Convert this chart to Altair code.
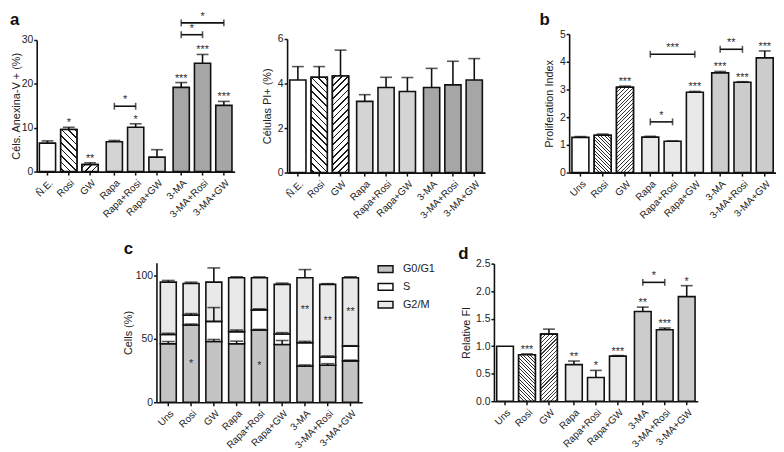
import math
import altair as alt
import pandas as pd

FONT = "Liberation Sans"
W, H = 776, 444
INK = "#111111"

# ---------------- data ----------------
labels_a = ["Ñ.E.", "Rosi", "GW", "Rapa", "Rapa+Rosi", "Rapa+GW", "3-MA", "3-MA+Rosi", "3-MA+GW"]
labels_bcd = ["Uns", "Rosi", "GW", "Rapa", "Rapa+Rosi", "Rapa+GW", "3-MA", "3-MA+Rosi", "3-MA+GW"]

annexin_mean = [6.5, 9.6, 1.6, 6.8, 10.1, 3.3, 19.2, 24.7, 15.1]
annexin_err = [0.5, 0.5, 0.4, 0.3, 0.8, 1.7, 1.1, 2.0, 0.9]
annexin_stars = ["", "*", "**", "", "*", "", "***", "***", "***"]
annexin_brackets = [("Rapa", "Rapa+Rosi", 14.9, "*"),
                    ("3-MA", "3-MA+Rosi", 31.2, "*"),
                    ("3-MA", "3-MA+GW", 33.9, "*")]

pi_mean = [4.16, 4.28, 4.34, 3.2, 3.82, 3.64, 3.82, 3.94, 4.16]
pi_err = [0.6, 0.48, 1.16, 0.3, 0.46, 0.63, 0.86, 1.06, 0.96]
pi_stars = [""] * 9
pi_brackets = []

prolif_mean = [1.27, 1.35, 3.08, 1.28, 1.13, 2.90, 3.60, 3.26, 4.14]
prolif_err = [0.03, 0.04, 0.04, 0.03, 0.01, 0.03, 0.05, 0.02, 0.25]
prolif_stars = ["", "", "***", "", "", "***", "***", "***", "***"]
prolif_brackets = [("Rapa", "Rapa+Rosi", 1.83, "*"),
                   ("Rapa", "Rapa+GW", 4.27, "***"),
                   ("3-MA", "3-MA+Rosi", 4.45, "**")]

fi_mean = [1.0, 0.845, 1.22, 0.665, 0.43, 0.82, 1.63, 1.30, 1.90]
fi_err = [0.0, 0.015, 0.09, 0.065, 0.13, 0.01, 0.08, 0.03, 0.2]
fi_stars = ["", "***", "", "**", "*", "***", "**", "***", "*"]
fi_brackets = [("3-MA", "3-MA+Rosi", 2.16, "*")]

phases = ["G0/G1", "S", "G2/M"]
cc_g0 = [46.1, 60.9, 47.9, 46.1, 57.0, 45.6, 28.6, 29.2, 32.6]
cc_s = [7.3, 7.85, 15.9, 9.6, 15.9, 8.3, 18.3, 6.5, 11.7]
cc_g2 = [41.4, 25.0, 31.0, 42.5, 25.3, 39.1, 51.3, 57.3, 53.9]
cc_g0_err = [1.8, 0.8, 1.6, 2.1, 0.5, 3.1, 0.8, 1.2, 0.6]
cc_s_err = [1.0, 1.2, 10.9, 1.3, 0.8, 1.0, 1.1, 0.8, 0.3]
cc_g2_err = [1.3, 1.0, 11.2, 0.8, 0.7, 1.0, 6.5, 0.6, 0.8]
cc_g0_stars = ["", "*", "", "", "*", "", "", "", ""]
cc_s_stars = [""] * 9
cc_g2_stars = ["", "", "", "", "", "", "**", "**", "**"]

# ---------------- helpers ----------------
GROUPS = ["g0", "g1", "g2"]
MEMBERS = ["m0", "m1", "m2"]
GRP = [g for g in GROUPS for _ in range(3)]
MEM = MEMBERS * 3
PI, PO, QI = 0.12, 0.04, 0.24
CAP = 12
STAR = "#333333"


def yaxis_style(title_pad):
    return dict(labelFont=FONT, labelFontSize=10.5, labelColor="#222222", labelPadding=1,
                tickSize=3, tickWidth=1.5, tickColor=INK, domainColor=INK, domainWidth=1.6,
                titleFont=FONT, titleFontSize=11, titleFontWeight="normal",
                titleColor="#222222", titlePadding=title_pad, grid=False)


def band_geom(x0, x1):
    step = (x1 - x0) / (3 - PI + 2 * PO)
    band = step * (1 - PI)
    sub = band / (3 - QI)
    return sub, sub * (1 - QI)


def hatch(w, h, spacing, lw, direction, ink="#1a1a1a", bg="#ffffff"):
    L = w + h
    k = L / (w * w + h * h)
    if direction == "/":
        x1, y1, x2, y2 = 0, 0, k * w, k * h
    else:
        x1, y1, x2, y2 = 0, 1, k * w, 1 - k * h
    period = spacing * math.sqrt(2)
    half = lw * math.sqrt(2) / 2
    stops = [{"offset": 0, "color": bg}]
    c = period / 2
    while c - half < L:
        a = round(max(0.0, (c - half) / L), 5)
        b = round(min(1.0, (c + half) / L), 5)
        stops += [{"offset": a, "color": bg}, {"offset": a, "color": ink},
                  {"offset": b, "color": ink}, {"offset": b, "color": bg}]
        c += period
    stops.append({"offset": 1, "color": bg})
    return {"gradient": "linear", "x1": x1, "y1": y1, "x2": round(x2, 5), "y2": round(y2, 5),
            "stops": stops}


def grouped(labels, mean, err, stars, brackets, fills, hatches, xr, yr, ydom, yvals,
            ytitle, yfmt, title_pad):
    ppu = (yr[0] - yr[1]) / (ydom[1] - ydom[0])
    sub, barw = band_geom(*xr)
    top = [m + e for m, e in zip(mean, err)]
    df = pd.DataFrame(dict(label=labels, grp=GRP, mem=MEM, mean=mean, err=err, top=top,
                           star=stars, fill=fills))
    X = alt.X("grp:N",
              scale=alt.Scale(domain=GROUPS, range=list(xr), paddingInner=PI, paddingOuter=PO),
              axis=alt.Axis(orient="bottom", offset=yr[0] - H, labels=False, ticks=False,
                            title=None, grid=False, domainColor=INK, domainWidth=1.6))
    XO = alt.XOffset("mem:N", scale=alt.Scale(domain=MEMBERS, paddingInner=QI, paddingOuter=0))
    ysc = alt.Scale(domain=list(ydom), range=[yr[0], yr[1]], nice=False, zero=False)
    yax = alt.Axis(orient="left", offset=-xr[0], values=yvals, format=yfmt, title=ytitle,
                   **yaxis_style(title_pad))

    def Y(f):
        return alt.Y(f + ":Q", scale=ysc, axis=yax)

    layers = [alt.Chart(df).mark_bar(stroke=INK, strokeWidth=1.6).encode(
        X, XO, Y("mean"), fill=alt.Fill("fill:N", scale=None))]
    for i, (dirn, sp, lw, ink) in hatches.items():
        g = hatch(barw, mean[i] * ppu, sp, lw, dirn, ink=ink)
        layers.append(alt.Chart(df.iloc[[i]]).mark_bar(fill=g, stroke=INK, strokeWidth=1.6)
                      .encode(X, XO, Y("mean")))
    dfe = df[df.err > 0.005]
    layers.append(alt.Chart(dfe).mark_rule(color=INK, strokeWidth=1.6).encode(
        X, XO, Y("mean"), y2=alt.Y2("top:Q")))
    layers.append(alt.Chart(dfe).mark_tick(color=INK, thickness=1.6, size=CAP).encode(
        X, XO, Y("top")))
    dfs = df[df.star != ""]
    if len(dfs):
        layers.append(alt.Chart(dfs).mark_text(font=FONT, fontSize=11, color=STAR,
                                               baseline="alphabetic", dy=-1).encode(
            X, XO, Y("top"), text="star:N"))
    if brackets:
        rows = []
        for bi, (a, b, yv, s) in enumerate(brackets):
            ia, ib = labels.index(a), labels.index(b)
            rows.append(dict(bid=bi, grp=GRP[ia], mem=MEM[ia], yb=yv, s=s))
            rows.append(dict(bid=bi, grp=GRP[ib], mem=MEM[ib], yb=yv, s=s))
        dfb = pd.DataFrame(rows)
        layers.append(alt.Chart(dfb).mark_line(color=INK, strokeWidth=1.6).encode(
            X, XO, Y("yb"), detail="bid:N"))
        layers.append(alt.Chart(dfb).mark_tick(color=INK, thickness=1.6, size=7,
                                               orient="vertical").encode(X, XO, Y("yb")))
        for bi, (a, b, yv, s) in enumerate(brackets):
            ia, ib = labels.index(a), labels.index(b)
            d1 = pd.DataFrame([dict(grp=GRP[ia], mem=MEM[ia], yb=yv, s=s)])
            shift = (MEMBERS.index(MEM[ib]) - MEMBERS.index(MEM[ia])) * sub / 2
            layers.append(alt.Chart(d1).mark_text(font=FONT, fontSize=11, color=STAR,
                                                  baseline="alphabetic", dy=-3, dx=shift)
                          .encode(X, XO, Y("yb"), text="s:N"))
    layers.append(alt.Chart(df).mark_text(font=FONT, fontSize=10, color="#222222", angle=315,
                                          align="right", baseline="middle", dx=2.8, dy=2.8)
                  .encode(X, XO, y=alt.value(yr[0] + 10), text="label:N"))
    layers.append(alt.Chart(df).mark_rule(color=INK, strokeWidth=1.5).encode(
        X, XO, y=alt.value(yr[0]), y2=alt.value(yr[0] + 4)))
    return alt.layer(*layers)


fill_a = ["#ffffff"] * 3 + ["#d4d4d4"] * 3 + ["#a6a6a6"] * 3
fill_bd = ["#ffffff"] * 3 + ["#e8e8e8"] * 3 + ["#cccccc"] * 3
hatch_a = {1: ("\\", 4.7, 1.2, "#1a1a1a"), 2: ("/", 4.7, 1.2, "#1a1a1a")}
hatch_bd = {1: ("\\", 2.5, 0.8, "#2a2a2a"), 2: ("/", 2.7, 0.75, "#3a3a3a")}

panel_a1 = grouped(labels_a, annexin_mean, annexin_err, annexin_stars, annexin_brackets,
                   fill_a, hatch_a, (29, 229), (163, 30), (0, 30), [0, 10, 20, 30],
                   "Céls. Anexina-V + (%)", "d", 0)
panel_a2 = grouped(labels_a, pi_mean, pi_err, pi_stars, pi_brackets, fill_a, hatch_a,
                   (282, 482), (164, 29), (0, 6), [0, 2, 4, 6], "Células PI+ (%)", "d", 5)
panel_b = grouped(labels_bcd, prolif_mean, prolif_err, prolif_stars, prolif_brackets, fill_bd,
                  hatch_bd, (567, 776), (164, 24), (0, 5), [0, 1, 2, 3, 4, 5],
                  "Proliferation Index", "d", 5)
panel_d = grouped(labels_bcd, fi_mean, fi_err, fi_stars, fi_brackets, fill_bd, hatch_bd,
                  (491, 697), (395, 256), (0, 2.5), [0, 0.5, 1.0, 1.5, 2.0, 2.5],
                  "Relative FI", ".1f", 4)

# ---------------- panel c (stacked) ----------------
rows = []
for i, lab in enumerate(labels_bcd):
    y0 = 0.0
    for p, vals, errs, sts in zip(phases, [cc_g0, cc_s, cc_g2], [cc_g0_err, cc_s_err, cc_g2_err],
                                  [cc_g0_stars, cc_s_stars, cc_g2_stars]):
        y1 = y0 + vals[i]
        rows.append(dict(label=lab, phase=p, y0=y0, y1=y1, err=errs[i], cap=y1 + errs[i],
                         star=sts[i], mid=(y0 + y1) / 2))
        y0 = y1
dfc = pd.DataFrame(rows)
cy0, cy1 = 396, 255.2
Xc = alt.X("label:N",
           scale=alt.Scale(domain=labels_bcd, range=[150, 358], paddingInner=0.3, paddingOuter=0.17),
           axis=alt.Axis(orient="bottom", offset=cy0 - H, labels=False, ticks=False, title=None,
                         grid=False, domainColor=INK, domainWidth=1.6))
ysc_c = alt.Scale(domain=[0, 110], range=[cy0, cy1], nice=False, zero=False)
yax_c = alt.Axis(orient="left", offset=-150, values=[0, 50, 100], format="d", title="Cells (%)",
                 **yaxis_style(2))


def Yc(f):
    return alt.Y(f + ":Q", scale=ysc_c, axis=yax_c)


lab_df = pd.DataFrame(dict(label=labels_bcd))
panel_c = alt.layer(
    alt.Chart(dfc).mark_bar(stroke=INK, strokeWidth=1.6).encode(
        Xc, Yc("y0"), y2=alt.Y2("y1:Q"),
        fill=alt.Fill("phase:N", scale=alt.Scale(domain=phases,
                                                 range=["#c4c4c4", "#ffffff", "#e9e9e9"]),
                      legend=alt.Legend(title=None, orient="none", legendX=373, legendY=253,
                                        symbolType="M-1,-0.45L1,-0.45L1,0.45L-1,0.45Z",
                                        symbolSize=225, symbolStrokeColor=INK,
                                        symbolStrokeWidth=1.5, labelFont=FONT, labelFontSize=11,
                                        labelColor="#222222", labelOffset=9, rowPadding=3,
                                        padding=0))),
    alt.Chart(dfc).mark_rule(color=INK, strokeWidth=1.6).encode(Xc, Yc("y1"), y2=alt.Y2("cap:Q")),
    alt.Chart(dfc).mark_tick(color=INK, thickness=1.6, size=13).encode(Xc, Yc("cap")),
    alt.Chart(dfc[dfc.star != ""]).mark_text(font=FONT, fontSize=11, color=STAR,
                                             baseline="middle").encode(Xc, Yc("mid"), text="star:N"),
    alt.Chart(lab_df).mark_text(font=FONT, fontSize=10, color="#222222", angle=315, align="right",
                                baseline="middle", dx=2.8, dy=2.8).encode(
        Xc, y=alt.value(cy0 + 10), text="label:N"),
    alt.Chart(lab_df).mark_rule(color=INK, strokeWidth=1.5).encode(
        Xc, y=alt.value(cy0), y2=alt.value(cy0 + 4)),
)

# ---------------- panel letters ----------------
letters = pd.DataFrame(dict(t=["a", "b", "c", "d"]))


def letter(i, x, y):
    return alt.Chart(letters.iloc[[i]]).mark_text(font=FONT, fontSize=17, fontWeight="bold",
                                                  color="#111111", align="left",
                                                  baseline="alphabetic").encode(
        x=alt.value(x), y=alt.value(y), text="t:N")


chart = alt.layer(
    panel_a1, panel_a2, panel_b, panel_c, panel_d,
    letter(0, 2, 15), letter(1, 537, 15), letter(2, 117, 246), letter(3, 455, 251),
).resolve_scale(
    x="independent", y="independent", xOffset="independent", fill="independent"
).properties(
    width=W, height=H, padding=0, autosize=alt.AutoSizeParams(type="none"), background="white"
).configure_view(stroke=None)

chart.save("out.html", embed_options={"renderer": "svg", "actions": False})
